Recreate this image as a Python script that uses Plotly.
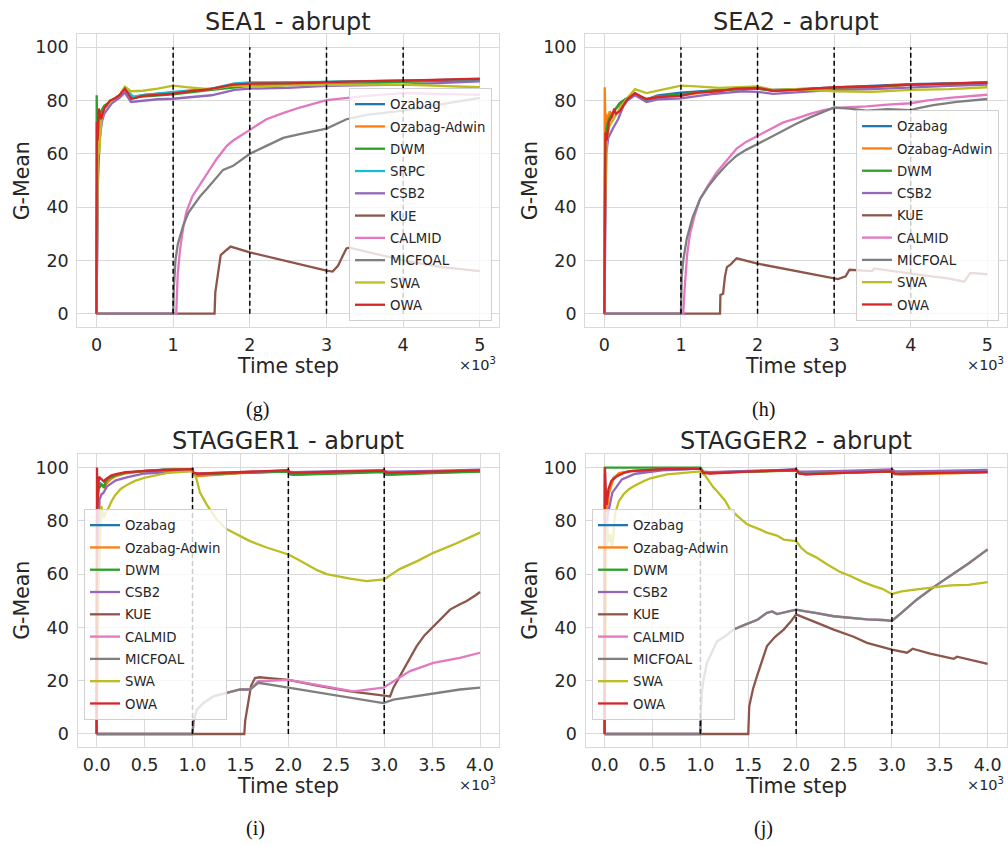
import plotly.graph_objects as go

W, H = 1008, 846

# ---------------- colours / names ----------------
COLORS = {
    "Ozabag": "#1f77b4", "Ozabag-Adwin": "#ff7f0e", "DWM": "#2ca02c",
    "SRPC": "#17becf", "CSB2": "#9467bd", "KUE": "#8c564b",
    "CALMID": "#e377c2", "MICFOAL": "#7f7f7f", "SWA": "#bcbd22", "OWA": "#d62728",
}

# ---------------- SEA1 ----------------
sea1_ozabag_x = [0, 10, 30, 60, 100, 200, 300, 370, 480, 600, 1000, 1500, 2000, 2500, 3000, 4000, 5000]
sea1_ozabag_y = [0, 55, 72, 75, 77, 80, 82, 84.5, 81, 82, 83, 84.5, 86.5, 86.5, 87, 87.5, 88]
sea1_adwin_x = [0, 10, 30, 60, 100, 200, 300, 370, 480, 600, 1000, 1500, 2000, 2500, 3000, 4000, 5000]
sea1_adwin_y = [0, 58, 71, 75, 77.5, 80, 82, 84.3, 81, 82, 82.8, 84.3, 86.2, 86.4, 86.8, 87.3, 87.8]
sea1_dwm_x = [0, 3, 8, 15, 30, 60, 100, 200, 300, 370, 480, 600, 1000, 1500, 2000, 2500, 3000, 4000, 5000]
sea1_dwm_y = [0, 82, 72, 75, 74, 76, 78, 80, 82, 84.5, 81, 81.5, 82.3, 84, 85.5, 85.8, 86, 87, 87.5]
sea1_srpc_x = [0, 20, 60, 100, 200, 300, 370, 480, 600, 1000, 1500, 1800, 2000, 2500, 3000, 4000, 5000]
sea1_srpc_y = [0, 55, 74, 77, 80, 82, 84.5, 81.5, 82, 83.3, 84.5, 86.5, 86.8, 86.8, 87, 87.5, 88]
sea1_csb2_x = [0, 20, 40, 70, 100, 200, 300, 370, 450, 600, 800, 1000, 1500, 1800, 2000, 2500, 3000, 4000, 5000]
sea1_csb2_y = [0, 50, 65, 72, 75, 79, 81, 83, 79.5, 80, 80.5, 80.7, 82, 84, 84.5, 84.8, 85.5, 86, 87.2]
sea1_kue_x = [0, 1540, 1550, 1600, 1620, 1700, 1750, 2000, 2500, 3000, 3080, 3150, 3200, 3260, 3300, 4000, 4500, 5000]
sea1_kue_y = [0, 0, 8, 17, 22, 24, 25.2, 23, 19.5, 16.2, 15.8, 18, 21, 24.5, 24.8, 20, 17.5, 16]
sea1_calmid_x = [0, 1040, 1060, 1090, 1130, 1170, 1250, 1350, 1450, 1565, 1700, 1783, 2000, 2217, 2450, 2652, 3000, 3250, 3522, 4000, 4500, 5000]
sea1_calmid_y = [0, 0, 15, 24, 32, 38, 44, 48.5, 53, 58, 63, 65, 69, 73, 75.5, 77.4, 80.2, 81, 81.8, 82.8, 82.5, 82.2]
sea1_micfoal_x = [0, 1000, 1010, 1030, 1060, 1130, 1200, 1261, 1350, 1435, 1550, 1652, 1783, 2000, 2217, 2435, 2652, 3000, 3261, 3522, 4000, 4391, 5000]
sea1_micfoal_y = [0, 0, 10, 20, 26, 33, 38, 40.5, 44, 46.7, 50.5, 54, 55.5, 60, 63, 66, 67.4, 69.5, 73, 74.6, 76.2, 78, 81]
sea1_swa_x = [0, 10, 20, 35, 60, 100, 200, 300, 370, 450, 604, 800, 1000, 1200, 1478, 1780, 2130, 2500, 3000, 3500, 4000, 4500, 5000]
sea1_swa_y = [0, 45, 70, 60, 72, 77, 80, 82, 85.2, 83.5, 83.7, 84.5, 85.6, 85, 84.3, 85.6, 85.2, 85.8, 86, 86, 86, 85.5, 85]
sea1_owa_x = [0, 5, 15, 30, 60, 100, 174, 250, 300, 370, 456, 604, 800, 1000, 1200, 1478, 1780, 2000, 2130, 2500, 3000, 3500, 4000, 4500, 5000]
sea1_owa_y = [0, 72, 65, 77, 73, 77, 80, 81, 82, 84.5, 80.6, 81.8, 82.2, 82.6, 83.5, 84.3, 86, 86.2, 86.5, 86.5, 87, 87.3, 87.5, 87.8, 88.2]

# ---------------- SEA2 ----------------
sea2_ozabag_x = [0, 10, 30, 60, 100, 200, 300, 400, 550, 700, 1000, 1500, 2000, 2200, 2500, 3000, 3500, 4000, 4500, 5000]
sea2_ozabag_y = [0, 60, 72, 74, 75, 79, 81, 82.5, 80.5, 82, 83, 84, 84.5, 84, 84.3, 85, 85.5, 86.2, 86.5, 86.8]
sea2_adwin_x = [0, 5, 15, 25, 40, 70, 100, 150, 200, 300, 400, 550, 700, 1000, 1500, 2000, 2200, 2500, 3000, 3500, 4000, 4500, 5000]
sea2_adwin_y = [0, 85, 70, 75, 72, 76, 74, 77, 78, 81, 82.5, 80.5, 81.5, 82, 83.8, 84.5, 83.8, 84, 84.5, 85, 86, 86.2, 86.8]
sea2_dwm_x = [0, 10, 30, 60, 100, 200, 300, 400, 550, 700, 1000, 1500, 2000, 2200, 2500, 3000, 3500, 4000, 4500, 5000]
sea2_dwm_y = [0, 58, 70, 73, 75, 79, 81, 82.5, 80, 81.5, 82.3, 84, 84.5, 83.7, 84, 84.8, 85.2, 86, 86.3, 86.6]
sea2_csb2_x = [0, 10, 25, 50, 80, 120, 180, 250, 300, 400, 550, 700, 1000, 1400, 1800, 2000, 2200, 2500, 3000, 3500, 4000, 4500, 5000]
sea2_csb2_y = [0, 27, 60, 66, 68, 70, 73, 78, 80, 82, 79.5, 80.5, 80.8, 82.4, 83.5, 83.3, 82.5, 83, 84, 84.3, 85, 85.5, 86]
sea2_kue_x = [0, 1510, 1515, 1550, 1575, 1600, 1650, 1727, 2000, 2500, 3000, 3050, 3150, 3200, 3500, 3520, 4000, 4500, 4700, 4720, 4780, 5000]
sea2_kue_y = [0, 0, 7, 7.5, 14, 17.5, 18.5, 20.8, 18.8, 16, 13.2, 13, 14, 16.5, 16, 17, 15, 13.2, 12, 13, 15.3, 14.8]
sea2_calmid_x = [0, 1030, 1050, 1080, 1118, 1180, 1249, 1350, 1466, 1600, 1727, 1850, 2000, 2150, 2336, 2500, 2685, 2850, 3000, 3200, 3425, 3700, 4000, 4200, 4500, 5000]
sea2_calmid_y = [0, 0, 10, 22, 30, 37, 43, 48, 53, 57.5, 62, 64.5, 66.8, 69, 71.8, 73.2, 75, 76.3, 77.2, 77.5, 77.8, 78.5, 79, 80, 81, 82.2]
sea2_micfoal_x = [0, 1000, 1010, 1030, 1075, 1150, 1249, 1350, 1466, 1600, 1727, 1850, 2000, 2150, 2336, 2500, 2685, 2850, 3000, 3200, 3425, 3700, 4000, 4100, 4295, 4600, 5000]
sea2_micfoal_y = [0, 0, 14, 20, 28, 36, 43, 47.5, 51.8, 56, 59.3, 61.5, 63.7, 66, 68.7, 71.2, 73.7, 75.7, 77.4, 77, 76.2, 76.8, 76.4, 77.2, 78.3, 79.5, 80.6]
sea2_swa_x = [0, 10, 30, 60, 100, 200, 300, 400, 550, 700, 1000, 1200, 1500, 2000, 2200, 2500, 3000, 3500, 4000, 4500, 5000]
sea2_swa_y = [0, 40, 65, 70, 72, 77, 81, 84.3, 82.8, 83.8, 85.6, 85.3, 84.8, 85.3, 84, 84.3, 83.5, 83.3, 84, 84.3, 85]
sea2_owa_x = [0, 5, 15, 30, 60, 100, 130, 150, 200, 300, 400, 480, 550, 700, 1000, 1200, 1500, 1700, 2000, 2200, 2500, 3000, 3500, 4000, 4500, 5000]
sea2_owa_y = [0, 55, 68, 65, 72, 74, 77, 75, 76, 80.5, 82.8, 81.5, 80.6, 81.3, 81.8, 83, 83.5, 84.5, 84.8, 83.7, 84, 85, 85.3, 86, 86.5, 86.8]

# ---------------- STAGGER1 ----------------
stg1_ozabag_x = [0, 5, 20, 40, 60, 80, 100, 150, 200, 300, 500, 700, 1000, 1010, 1050, 1500, 2000, 2010, 2050, 2500, 3000, 3010, 3050, 3500, 4000]
stg1_ozabag_y = [0, 90, 93, 94, 93.5, 93, 94.5, 96, 97, 98, 98.8, 99.2, 99.4, 97.5, 97, 98, 98.8, 97.8, 97.5, 98.2, 98.8, 97.8, 97.6, 98.2, 98.7]
stg1_adwin_x = [0, 5, 20, 40, 60, 80, 100, 150, 200, 300, 500, 700, 1000, 1010, 1050, 1500, 2000, 2010, 2050, 2500, 3000, 3010, 3050, 3500, 4000]
stg1_adwin_y = [0, 88, 92, 93.5, 93, 92.5, 94, 95.8, 96.8, 97.8, 98.7, 99.1, 99.4, 97.3, 96.8, 97.9, 98.7, 97.7, 97.4, 98.1, 98.7, 97.7, 97.5, 98.1, 98.6]
stg1_dwm_x = [0, 5, 20, 50, 70, 80, 100, 150, 200, 300, 500, 700, 1000, 1010, 1050, 1500, 2000, 2010, 2050, 2500, 3000, 3010, 3050, 3500, 4000]
stg1_dwm_y = [0, 85, 92, 93.7, 93, 92.5, 95.6, 96.5, 97.2, 98, 98.8, 99.1, 99.3, 97.7, 97.5, 98, 98.5, 97.5, 97.3, 97.8, 98.3, 97.4, 97.3, 97.9, 98.5]
stg1_csb2_x = [0, 10, 30, 50, 70, 110, 150, 200, 325, 500, 850, 1000, 1010, 1050, 1500, 2000, 2010, 2050, 2500, 3000, 3010, 3050, 3500, 4000]
stg1_csb2_y = [0, 60, 88, 90, 90.5, 93, 94, 95.2, 96.4, 97.8, 98.5, 98.8, 98, 97.8, 98.3, 98.9, 98.5, 98.3, 98.7, 99, 98.7, 98.5, 98.8, 99.2]
stg1_kue_x = [0, 1540, 1550, 1580, 1610, 1652, 1700, 1800, 2000, 2300, 2643, 3000, 3061, 3096, 3165, 3250, 3339, 3420, 3513, 3600, 3687, 3780, 3861, 3950, 4000]
stg1_kue_y = [0, 0, 5, 12, 18, 21, 21.3, 21, 20.3, 18.2, 16, 14.4, 14.1, 17.4, 21.7, 27, 33, 37, 40.5, 43.5, 46.7, 48.5, 49.9, 52, 53.3]
stg1_calmid_x = [0, 1000, 1010, 1043, 1113, 1217, 1357, 1496, 1600, 1687, 2000, 2678, 2991, 3096, 3270, 3513, 3791, 4000]
stg1_calmid_y = [0, 0, 4.7, 9.1, 11.6, 14.1, 15.4, 16.7, 16.7, 19.8, 20.3, 16, 17.4, 19.8, 23.6, 26.7, 28.6, 30.5]
stg1_micfoal_x = [0, 1000, 1010, 1043, 1113, 1217, 1357, 1496, 1600, 1687, 2000, 2991, 3096, 3443, 3791, 4000]
stg1_micfoal_y = [0, 0, 4.7, 9.1, 11.6, 14.1, 15.4, 16.7, 16.7, 19.2, 17.4, 11.6, 12.9, 14.8, 16.7, 17.4]
stg1_swa_x = [0, 20, 48, 65, 75, 90, 117, 150, 186, 250, 325, 400, 500, 740, 1000, 1040, 1078, 1150, 1252, 1350, 1426, 1600, 1774, 2000, 2100, 2191, 2300, 2400, 2643, 2817, 3000, 3080, 3165, 3350, 3513, 3750, 4000]
stg1_swa_y = [0, 55, 85.6, 83, 81, 83, 84.3, 87, 89.3, 92, 93.7, 95, 96.2, 98, 98.7, 96, 90.6, 86, 80.6, 77, 75.6, 72.4, 70, 67.4, 65.5, 63.7, 61.5, 60, 58.3, 57.4, 58, 60, 62, 65, 68, 71.5, 75.6]
stg1_owa_x = [0, 3, 8, 15, 25, 55, 75, 90, 150, 200, 300, 500, 700, 1000, 1010, 1060, 1500, 2000, 2010, 2050, 2500, 3000, 3010, 3050, 3500, 4000]
stg1_owa_y = [0, 100, 85, 92, 96.5, 95.5, 94.8, 95.5, 97, 97.6, 98.3, 98.7, 99.1, 99.4, 98, 97.7, 98.4, 99, 98.3, 98, 98.5, 98.9, 98.3, 98, 98.5, 99]

# ---------------- STAGGER2 ----------------
stg2_ozabag_x = [0, 3, 10, 20, 45, 90, 150, 270, 610, 1000, 1030, 1100, 1500, 2000, 2030, 2100, 2500, 3000, 3030, 3100, 3500, 4000]
stg2_ozabag_y = [0, 98, 88, 86, 92, 96, 97.8, 98.7, 99.3, 99.6, 98.2, 98, 98.6, 99.2, 97.9, 97.6, 98.1, 98.6, 97.7, 97.6, 98, 98.4]
stg2_adwin_x = [0, 3, 10, 20, 45, 90, 150, 270, 610, 1000, 1030, 1100, 1500, 2000, 2030, 2100, 2500, 3000, 3030, 3100, 3500, 4000]
stg2_adwin_y = [0, 95, 84, 83, 90.6, 95.6, 98, 98.7, 99.3, 99.6, 98.1, 97.9, 98.5, 99.1, 97.8, 97.5, 98, 98.5, 97.5, 97.4, 97.8, 98.2]
stg2_dwm_x = [0, 2, 1000, 1030, 1100, 1500, 2000, 2030, 2100, 2500, 3000, 3030, 3100, 3500, 4000]
stg2_dwm_y = [0, 100, 100, 98.5, 98.2, 98.5, 98.9, 98, 97.8, 98.2, 98.6, 97.8, 97.7, 98, 98.4]
stg2_csb2_x = [0, 3, 15, 30, 80, 180, 320, 600, 1000, 1030, 1100, 1500, 2000, 2030, 2100, 2500, 3000, 3030, 3100, 3500, 4000]
stg2_csb2_y = [0, 75, 70, 81.8, 90.6, 95.6, 97.7, 99, 99.6, 98.5, 98.3, 98.8, 99.3, 98.6, 98.5, 98.8, 99.3, 98.7, 98.6, 98.8, 99.1]
stg2_kue_x = [0, 1500, 1510, 1550, 1591, 1650, 1695, 1780, 1870, 1950, 2000, 2200, 2392, 2600, 2740, 3000, 3157, 3200, 3215, 3400, 3645, 3660, 3680, 4000]
stg2_kue_y = [0, 0, 10.4, 17, 21.7, 28, 33, 36.5, 39.2, 42.5, 44.9, 42, 39.2, 36.5, 34.2, 31.7, 30.5, 31.5, 32, 30.2, 28.2, 28.5, 29, 26.3]
stg2_calmid_x = [0, 1000, 1010, 1030, 1069, 1120, 1173, 1250, 1347, 1430, 1521, 1600, 1695, 1750, 1800, 1870, 2000, 2100, 2200, 2392, 2600, 2740, 2900, 3000, 3100, 3262, 3450, 3610, 3800, 4000]
stg2_calmid_y = [0, 0, 14, 20, 26.7, 31, 34.8, 36.5, 39.2, 40.5, 41.7, 43, 45.5, 46, 45, 45.5, 46.7, 46, 45.5, 44.2, 43.5, 43, 42.8, 42.6, 45.5, 50.5, 55.5, 59.3, 64, 69.3]
stg2_micfoal_x = [0, 1000, 1010, 1030, 1069, 1120, 1173, 1250, 1347, 1430, 1521, 1600, 1695, 1750, 1800, 1870, 2000, 2100, 2200, 2392, 2600, 2740, 2900, 3000, 3100, 3262, 3450, 3610, 3800, 4000]
stg2_micfoal_y = [0, 0, 14, 20, 26.7, 31, 34.8, 36.5, 39.2, 40.5, 41.7, 43, 45.5, 46, 45, 45.5, 46.7, 46, 45.5, 44.2, 43.5, 43, 42.8, 42.4, 45.5, 50.5, 55.5, 59.3, 64, 69.3]
stg2_swa_x = [0, 10, 20, 40, 60, 75, 85, 100, 111, 150, 198, 250, 303, 400, 477, 651, 800, 1000, 1050, 1135, 1173, 1260, 1310, 1430, 1487, 1626, 1695, 1800, 1870, 2000, 2050, 2113, 2200, 2322, 2450, 2566, 2700, 2810, 2900, 3000, 3100, 3262, 3400, 3610, 3800, 4000]
stg2_swa_y = [0, 55, 80, 72, 75, 70, 72, 79, 83, 87.5, 90, 91.8, 93, 94.8, 96, 97.5, 98, 98.6, 97, 92.6, 91.2, 87.5, 84.3, 80.5, 78.7, 76.7, 75.6, 74.5, 73, 72.4, 70, 68, 66.5, 63.7, 61, 59.3, 57, 55.5, 54.5, 52.5, 53.5, 54.3, 55, 55.8, 56, 57]
stg2_owa_x = [0, 3, 10, 20, 40, 70, 130, 200, 270, 610, 1000, 1030, 1100, 1500, 2000, 2030, 2100, 2500, 3000, 3030, 3100, 3500, 4000]
stg2_owa_y = [0, 100, 92, 86, 92, 95, 96.8, 98, 98.7, 99.4, 99.6, 98, 97.8, 98.5, 99.2, 97.8, 97.5, 98, 98.6, 97.8, 97.7, 98, 98.3]

# drift positions and tick labels
sea_drifts = [1000, 2000, 3000, 4000]
stagger_drifts = [1000, 2000, 3000]
sea_tickvals = [0, 1000, 2000, 3000, 4000, 5000]
sea_ticktext = ["0", "1", "2", "3", "4", "5"]
stg_tickvals = [0, 500, 1000, 1500, 2000, 2500, 3000, 3500, 4000]
stg_ticktext = ["0.0", "0.5", "1.0", "1.5", "2.0", "2.5", "3.0", "3.5", "4.0"]
y_tickvals = [0, 20, 40, 60, 80, 100]

panels = [
    dict(title="SEA1 - abrupt", caption="(g)",
         series=[("Ozabag", sea1_ozabag_x, sea1_ozabag_y), ("Ozabag-Adwin", sea1_adwin_x, sea1_adwin_y),
                 ("DWM", sea1_dwm_x, sea1_dwm_y), ("SRPC", sea1_srpc_x, sea1_srpc_y),
                 ("CSB2", sea1_csb2_x, sea1_csb2_y), ("KUE", sea1_kue_x, sea1_kue_y),
                 ("CALMID", sea1_calmid_x, sea1_calmid_y), ("MICFOAL", sea1_micfoal_x, sea1_micfoal_y),
                 ("SWA", sea1_swa_x, sea1_swa_y), ("OWA", sea1_owa_x, sea1_owa_y)],
         drifts=sea_drifts, xr=[-250, 5250], tv=sea_tickvals, tt=sea_ticktext,
         px=(77.3, 499.0), py=(34.0, 327.0), ty=21.5, cap=(257, 410),
         leg=dict(x=492 / W, y=1 - 321 / H, xanchor="right", yanchor="bottom")),
    dict(title="SEA2 - abrupt", caption="(h)",
         series=[("Ozabag", sea2_ozabag_x, sea2_ozabag_y), ("Ozabag-Adwin", sea2_adwin_x, sea2_adwin_y),
                 ("DWM", sea2_dwm_x, sea2_dwm_y), ("CSB2", sea2_csb2_x, sea2_csb2_y),
                 ("KUE", sea2_kue_x, sea2_kue_y), ("CALMID", sea2_calmid_x, sea2_calmid_y),
                 ("MICFOAL", sea2_micfoal_x, sea2_micfoal_y), ("SWA", sea2_swa_x, sea2_swa_y),
                 ("OWA", sea2_owa_x, sea2_owa_y)],
         drifts=sea_drifts, xr=[-250, 5250], tv=sea_tickvals, tt=sea_ticktext,
         px=(585.2, 1006.5), py=(34.0, 327.0), ty=21.5, cap=(763, 410),
         leg=dict(x=999 / W, y=1 - 321 / H, xanchor="right", yanchor="bottom")),
    dict(title="STAGGER1 - abrupt", caption="(i)",
         series=[("Ozabag", stg1_ozabag_x, stg1_ozabag_y), ("Ozabag-Adwin", stg1_adwin_x, stg1_adwin_y),
                 ("DWM", stg1_dwm_x, stg1_dwm_y), ("CSB2", stg1_csb2_x, stg1_csb2_y),
                 ("KUE", stg1_kue_x, stg1_kue_y), ("CALMID", stg1_calmid_x, stg1_calmid_y),
                 ("MICFOAL", stg1_micfoal_x, stg1_micfoal_y), ("SWA", stg1_swa_x, stg1_swa_y),
                 ("OWA", stg1_owa_x, stg1_owa_y)],
         drifts=stagger_drifts, xr=[-200, 4200], tv=stg_tickvals, tt=stg_ticktext,
         px=(77.5, 499.2), py=(454.3, 747.3), ty=441.5, cap=(255, 828),
         leg=dict(x=84 / W, y=1 - 509 / H, xanchor="left", yanchor="top")),
    dict(title="STAGGER2 - abrupt", caption="(j)",
         series=[("Ozabag", stg2_ozabag_x, stg2_ozabag_y), ("Ozabag-Adwin", stg2_adwin_x, stg2_adwin_y),
                 ("DWM", stg2_dwm_x, stg2_dwm_y), ("CSB2", stg2_csb2_x, stg2_csb2_y),
                 ("KUE", stg2_kue_x, stg2_kue_y), ("CALMID", stg2_calmid_x, stg2_calmid_y),
                 ("MICFOAL", stg2_micfoal_x, stg2_micfoal_y), ("SWA", stg2_swa_x, stg2_swa_y),
                 ("OWA", stg2_owa_x, stg2_owa_y)],
         drifts=stagger_drifts, xr=[-200, 4200], tv=stg_tickvals, tt=stg_ticktext,
         px=(585.5, 1006.8), py=(454.3, 747.3), ty=441.5, cap=(763, 828),
         leg=dict(x=592 / W, y=1 - 509 / H, xanchor="left", yanchor="top")),
]

FONT = "DejaVu Sans"
TXT = "#262626"
GRID = "#d9d9d9"

fig = go.Figure()
layout = dict(width=W, height=H, margin=dict(l=0, r=0, t=0, b=0),
              paper_bgcolor="white", plot_bgcolor="white",
              font=dict(family=FONT, color=TXT), showlegend=True)
annotations = []
shapes = []

for i, p in enumerate(panels):
    k = "" if i == 0 else str(i + 1)
    xa, ya = "x" + k, "y" + k
    lg = "legend" + k
    for name, xs, ys in p["series"]:
        fig.add_trace(go.Scatter(x=xs, y=ys, mode="lines", name=name,
                                 legendgroup=f"{lg}-{name}",
                                 line=dict(color=COLORS[name], width=2.3),
                                 xaxis=xa, yaxis=ya, legend=lg, hoverinfo="skip"))
    x0, x1 = p["px"]
    y0, y1 = p["py"]
    layout["xaxis" + k] = dict(domain=[x0 / W, x1 / W], anchor=ya, range=p["xr"],
                               tickvals=p["tv"], ticktext=p["tt"], showgrid=True,
                               gridcolor=GRID, gridwidth=1, zeroline=False,
                               showline=True, mirror=True, linecolor=GRID, linewidth=1.25,
                               ticks="outside", ticklen=2, tickcolor="rgba(0,0,0,0)",
                               tickfont=dict(size=17.5, color=TXT, family=FONT))
    layout["yaxis" + k] = dict(domain=[1 - y1 / H, 1 - y0 / H], anchor=xa, range=[-5, 105],
                               tickvals=y_tickvals, showgrid=True, gridcolor=GRID, gridwidth=1,
                               zeroline=False, showline=True, mirror=True, linecolor=GRID,
                               linewidth=1.25, ticks="outside", ticklen=4,
                               tickcolor="rgba(0,0,0,0)",
                               tickfont=dict(size=17.5, color=TXT, family=FONT))
    layout[lg] = dict(**p["leg"], bgcolor="rgba(255,255,255,0.8)", bordercolor="#d0d0d0",
                      borderwidth=1, font=dict(size=13.3, color=TXT, family=FONT),
                      itemwidth=30, traceorder="grouped", tracegroupgap=2)
    for d in p["drifts"]:
        shapes.append(dict(type="line", xref=xa, yref=ya, x0=d, x1=d, y0=0, y1=100,
                           line=dict(color="black", width=1.5, dash="5px,3px"), layer="above"))
    cx = (x0 + x1) / 2
    annotations.append(dict(text=p["title"], x=cx / W, y=1 - p["ty"] / H, xref="paper",
                            yref="paper", xanchor="center", yanchor="middle", showarrow=False,
                            font=dict(size=24, color=TXT, family=FONT)))
    annotations.append(dict(text="Time step", x=cx / W, y=1 - (y1 + 39) / H, xref="paper",
                            yref="paper", xanchor="center", yanchor="middle", showarrow=False,
                            font=dict(size=20.5, color=TXT, family=FONT)))
    annotations.append(dict(text="G-Mean", x=(x0 - 55.5) / W, y=1 - ((y0 + y1) / 2) / H,
                            xref="paper", yref="paper", xanchor="center", yanchor="middle",
                            textangle=-90, showarrow=False,
                            font=dict(size=20.5, color=TXT, family=FONT)))
    annotations.append(dict(text="×10<sup>3</sup>", x=(x1 - 1) / W, y=1 - (y1 + 36.5) / H,
                            xref="paper", yref="paper", xanchor="right", yanchor="middle",
                            showarrow=False, font=dict(size=14.5, color=TXT, family=FONT)))
    annotations.append(dict(text=p["caption"], x=p["cap"][0] / W, y=1 - p["cap"][1] / H,
                            xref="paper", yref="paper", xanchor="center", yanchor="middle",
                            showarrow=False, font=dict(size=20, color="#111111",
                                                       family="Liberation Serif")))

layout["annotations"] = annotations
layout["shapes"] = shapes
fig.update_layout(**layout)
fig.write_html("out.html")
